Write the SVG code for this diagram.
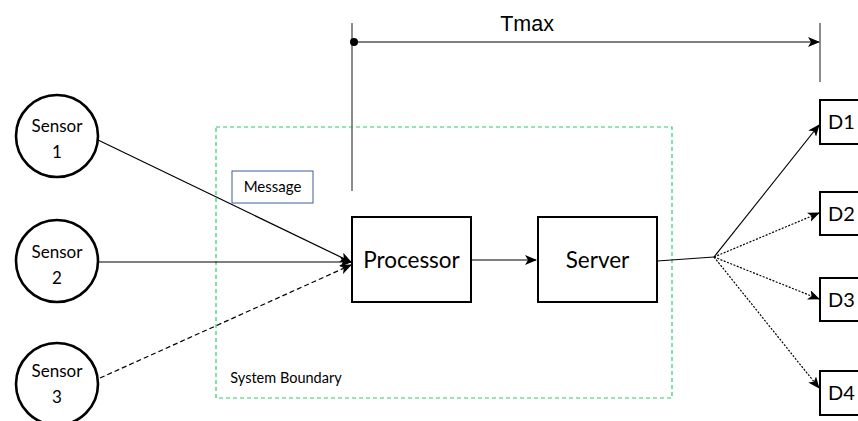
<svg xmlns="http://www.w3.org/2000/svg" width="858" height="421" viewBox="0 0 858 421">
<style>
.sensor{fill:#fff;stroke:#000;stroke-width:2.6}
.box{fill:#fff;stroke:#000;stroke-width:2}
.t{font-family:Lato,"Open Sans",sans-serif;fill:#000;text-anchor:middle}
.ln{stroke:#000;stroke-width:1.2;fill:none}
.dash{stroke-dasharray:5,3}
.dot{stroke-dasharray:2,1.5}
.gray{stroke:#666;stroke-width:1.5}
</style>
<defs>
<marker id="ah" viewBox="0 0 12 10" refX="11" refY="5" markerWidth="12" markerHeight="10" markerUnits="userSpaceOnUse" orient="auto">
<path d="M0,0 L12,5 L0,10 L3,5 z" fill="#000"/>
</marker>
<marker id="dotm" viewBox="0 0 6 6" refX="3" refY="3" markerWidth="8" markerHeight="8" markerUnits="userSpaceOnUse">
<circle cx="3" cy="3" r="3" fill="#000"/>
</marker>
</defs>
<rect width="858" height="421" fill="#fff"/>
<g id="boundary">
<rect x="216" y="127" width="456" height="271" fill="none" stroke="#2ecc71" stroke-width="1.2" stroke-dasharray="4,3"/>
<text class="t" x="286" y="383" font-size="14.5">System Boundary</text>
</g>
<g id="tmax">
<line class="gray" x1="352" y1="23" x2="352" y2="191"/>
<line class="gray" x1="820" y1="23" x2="820" y2="82"/>
<line class="ln" x1="354" y1="42" x2="819" y2="42" marker-start="url(#dotm)" marker-end="url(#ah)"/>
<text x="527" y="31" font-family="'Liberation Sans',Arial,sans-serif" font-size="21.5" text-anchor="middle">Tmax</text>
</g>
<g id="connectors">
<line class="ln" x1="98" y1="140" x2="351" y2="262" marker-end="url(#ah)"/>
<line class="ln" x1="98" y1="262" x2="351" y2="262" marker-end="url(#ah)"/>
<line class="ln dash" x1="100" y1="378" x2="351" y2="265" marker-end="url(#ah)"/>
<line class="ln" x1="471" y1="260" x2="536" y2="260" marker-end="url(#ah)"/>
<line class="ln" x1="657" y1="261" x2="714" y2="257"/>
<line class="ln" x1="714" y1="257" x2="819" y2="125" marker-end="url(#ah)"/>
<line class="ln dot" x1="714" y1="257" x2="819" y2="213" marker-end="url(#ah)"/>
<line class="ln dot" x1="714" y1="257" x2="819" y2="299" marker-end="url(#ah)"/>
<line class="ln dot" x1="714" y1="257" x2="819" y2="388" marker-end="url(#ah)"/>
</g>
<g id="message">
<rect x="232" y="171" width="81" height="32" fill="#fff" stroke="#3a5f9a" stroke-width="1"/>
<text class="t" x="272.5" y="192" font-size="15">Message</text>
</g>
<g id="sensor1">
<circle class="sensor" cx="57" cy="136" r="41"/>
<text class="t" x="57" y="132" font-size="17">Sensor</text>
<text class="t" x="57" y="158" font-size="17">1</text>
</g>
<g id="sensor2">
<circle class="sensor" cx="57" cy="261" r="41"/>
<text class="t" x="57" y="258" font-size="17">Sensor</text>
<text class="t" x="57" y="284" font-size="17">2</text>
</g>
<g id="sensor3">
<circle class="sensor" cx="57" cy="384" r="41"/>
<text class="t" x="57" y="377" font-size="17">Sensor</text>
<text class="t" x="57" y="403" font-size="17">3</text>
</g>
<g id="processor">
<rect class="box" x="352" y="217" width="119" height="85"/>
<text class="t" x="411.5" y="268" font-size="22.5">Processor</text>
</g>
<g id="server">
<rect class="box" x="538" y="217" width="119" height="85"/>
<text class="t" x="597.5" y="268" font-size="22.5">Server</text>
</g>
<g id="d1">
<rect class="box" x="820" y="100" width="50" height="44"/>
<text class="t" x="828" y="129" font-size="20" style="text-anchor:start">D1</text>
</g>
<g id="d2">
<rect class="box" x="820" y="192" width="50" height="43"/>
<text class="t" x="828" y="221" font-size="20" style="text-anchor:start">D2</text>
</g>
<g id="d3">
<rect class="box" x="820" y="278" width="50" height="43"/>
<text class="t" x="828" y="307" font-size="20" style="text-anchor:start">D3</text>
</g>
<g id="d4">
<rect class="box" x="820" y="371" width="50" height="44"/>
<text class="t" x="828" y="400" font-size="20" style="text-anchor:start">D4</text>
</g>
</svg>
